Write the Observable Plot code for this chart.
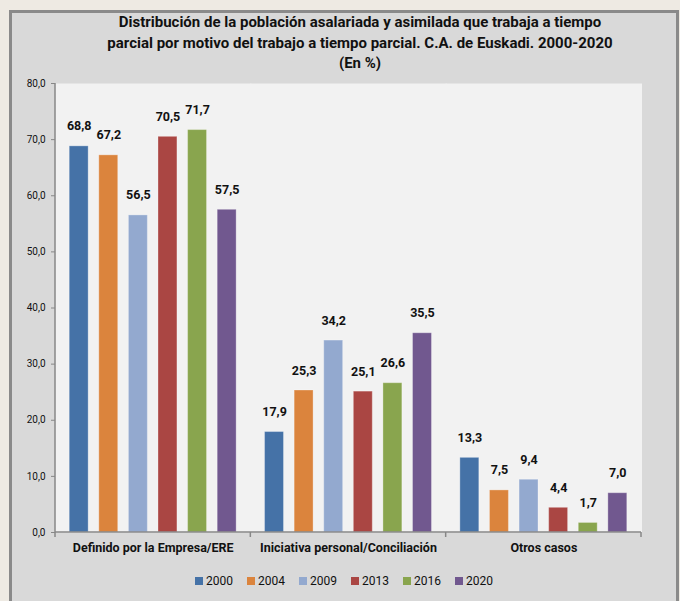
<!DOCTYPE html>
<html>
<head>
<meta charset="utf-8">
<script src="https://cdn.jsdelivr.net/npm/d3@7"></script>
<script src="https://cdn.jsdelivr.net/npm/@observablehq/plot@0.6"></script>
<style>
  html, body { margin: 0; padding: 0; width: 680px; height: 601px; overflow: hidden; background: #eeeae3; }
  #frame { position: absolute; left: 9px; top: 10px; width: 670px; height: 600px; box-sizing: border-box;
           border: 3px solid #8a8a8a; background: #d9d9d9; }
  #title { position: absolute; left: 40px; width: 640px; top: 12px; text-align: center;
           font-family: "Liberation Sans Narrow", "Roboto", sans-serif; font-weight: bold; font-size: 15px;
           line-height: 20.5px; color: #111; }
  #chart { position: absolute; left: 0; top: 70px; }
  #legend { position: absolute; left: 0; width: 688px; top: 574px; display: flex; justify-content: center;
            font-family: "Liberation Sans Narrow", "Roboto", sans-serif; font-size: 12px; color: #111; }
  .item { display: flex; align-items: center; margin: 0 7px; }
  .sw { width: 8px; height: 8px; margin-right: 3px; }
</style>
</head>
<body>
<div id="frame"></div>
<div id="title">Distribución de la población asalariada y asimilada que trabaja a tiempo<br>parcial por motivo del trabajo a tiempo parcial. C.A. de Euskadi. 2000-2020<br>(En %)</div>
<div id="chart"></div>
<div id="legend"></div>
<script>
const categories = ["Definido por la Empresa/ERE", "Iniciativa personal/Conciliación", "Otros casos"];
const years = ["2000", "2004", "2009", "2013", "2016", "2020"];
const v2000 = [68.8, 17.9, 13.3];
const v2004 = [67.2, 25.3, 7.5];
const v2009 = [56.5, 34.2, 9.4];
const v2013 = [70.5, 25.1, 4.4];
const v2016 = [71.7, 26.6, 1.7];
const v2020 = [57.5, 35.5, 7.0];
const yTicks = [0, 10, 20, 30, 40, 50, 60, 70, 80];
const colors = ["#4572A7", "#DB843D", "#93A9CF", "#AA4643", "#89A54E", "#71588F"];

const series = [v2000, v2004, v2009, v2013, v2016, v2020];
const data = [];
categories.forEach((c, i) => years.forEach((yr, j) => data.push({cat: c, year: yr, value: series[j][i]})));

const fmt = v => v.toFixed(1).replace(".", ",");
const font = '"Liberation Sans Narrow", "Roboto", sans-serif';

const plot = Plot.plot({
  width: 680,
  height: 492,
  marginLeft: 55,
  marginRight: 39,
  marginTop: 13,
  marginBottom: 30,
  style: {background: "transparent", fontFamily: font, color: "#111", overflow: "visible"},
  fx: {domain: categories, padding: 0, round: false, label: null},
  x: {domain: years, paddingInner: 0.36, paddingOuter: 0.48, round: false, axis: null},
  y: {domain: [0, 80], label: null},
  color: {domain: years, range: colors},
  marks: [
    Plot.frame({fill: "#f2f2f2", stroke: null, insetLeft: -0.5, insetRight: -0.5}),
    Plot.axisY({ticks: yTicks, tickFormat: fmt, tickSize: 4, tickPadding: 6, fontSize: 10, stroke: "#878787", label: null}),
    Plot.axisFx({anchor: "bottom", tickSize: 0, tickPadding: 11, fontSize: 12.5, fontWeight: "bold", label: null}),
    Plot.barY(data, {fx: "cat", x: "year", y: "value", fill: "year", stroke: "white", strokeOpacity: 0.3, strokeWidth: 1}),
    Plot.text(data, {fx: "cat", x: "year", y: "value", text: d => fmt(d.value), dy: -20, fontSize: 12.5, fontWeight: "bold", fill: "#111"})
  ]
});
document.getElementById("chart").appendChild(plot);

// axis lines and category separators, positioned from Plot's own scales
const fx = plot.scale("fx"), y = plot.scale("y");
const svg = d3.select(plot);
const x0 = fx.apply(categories[0]);
const x1 = fx.apply(categories[categories.length - 1]) + fx.bandwidth;
const yTop = y.apply(80), yBot = y.apply(0);
const g = svg.append("g").attr("stroke", "#878787").attr("stroke-width", 1.5);
g.append("line").attr("x1", x0).attr("x2", x0).attr("y1", yTop).attr("y2", yBot);
g.append("line").attr("x1", x0).attr("x2", x1).attr("y1", yBot).attr("y2", yBot);
const seps = categories.map(c => fx.apply(c)).concat([x1]);
seps.forEach(s => g.append("line").attr("x1", s).attr("x2", s).attr("y1", yBot).attr("y2", yBot + 5));

// legend from the color scale
const color = plot.scale("color");
const legend = document.getElementById("legend");
years.forEach(yr => {
  const it = document.createElement("div"); it.className = "item";
  const sw = document.createElement("div"); sw.className = "sw"; sw.style.background = color.apply(yr);
  const t = document.createElement("span"); t.textContent = yr;
  it.appendChild(sw); it.appendChild(t); legend.appendChild(it);
});
</script>
</body>
</html>
